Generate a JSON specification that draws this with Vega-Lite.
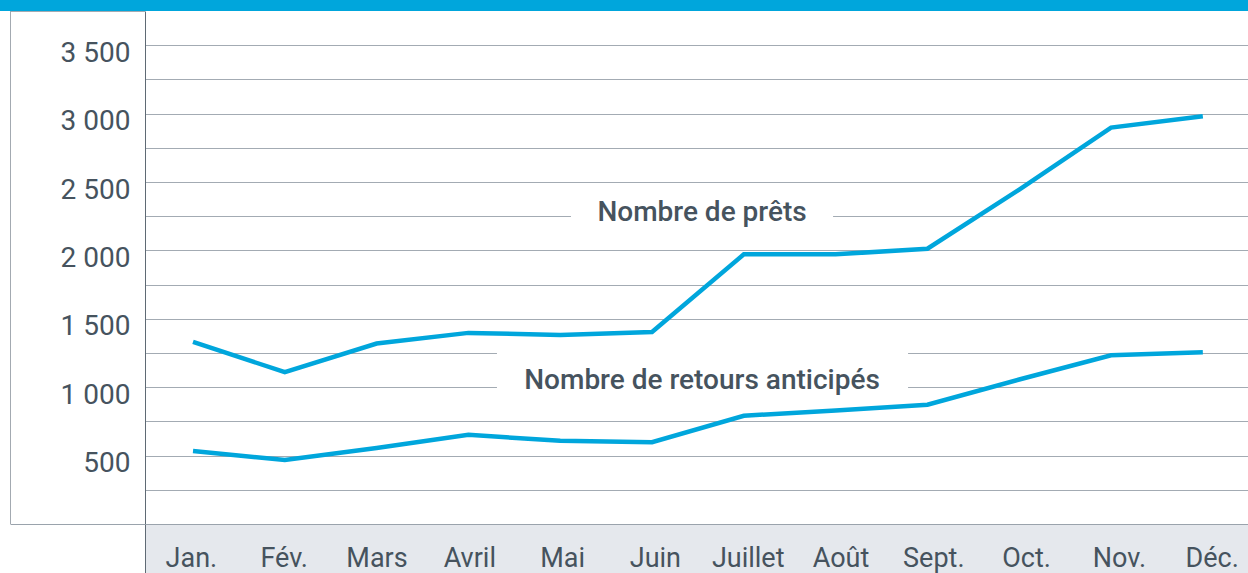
{
  "$schema": "https://vega.github.io/schema/vega-lite/v6.json",
  "padding": {"top": 10, "left": 0, "right": 0, "bottom": 0},
  "spacing": 0,
  "bounds": "flush",
  "columns": 3,
  "background": "#00a6dc",
  "config": {
    "view": {"stroke": null},
    "font": "Roboto",
    "concat": {"spacing": 0}
  },
  "datasets": {
    "series": [
      {"mois": 1, "serie": "prets", "valeur": 1331},
      {"mois": 2, "serie": "prets", "valeur": 1110},
      {"mois": 3, "serie": "prets", "valeur": 1319},
      {"mois": 4, "serie": "prets", "valeur": 1397},
      {"mois": 5, "serie": "prets", "valeur": 1382},
      {"mois": 6, "serie": "prets", "valeur": 1404},
      {"mois": 7, "serie": "prets", "valeur": 1971},
      {"mois": 8, "serie": "prets", "valeur": 1971},
      {"mois": 9, "serie": "prets", "valeur": 2012},
      {"mois": 10, "serie": "prets", "valeur": 2445},
      {"mois": 11, "serie": "prets", "valeur": 2898},
      {"mois": 12, "serie": "prets", "valeur": 2980},
      {"mois": 1, "serie": "retours", "valeur": 534},
      {"mois": 2, "serie": "retours", "valeur": 468},
      {"mois": 3, "serie": "retours", "valeur": 555},
      {"mois": 4, "serie": "retours", "valeur": 652},
      {"mois": 5, "serie": "retours", "valeur": 608},
      {"mois": 6, "serie": "retours", "valeur": 598},
      {"mois": 7, "serie": "retours", "valeur": 791},
      {"mois": 8, "serie": "retours", "valeur": 830},
      {"mois": 9, "serie": "retours", "valeur": 872},
      {"mois": 10, "serie": "retours", "valeur": 1056},
      {"mois": 11, "serie": "retours", "valeur": 1233},
      {"mois": 12, "serie": "retours", "valeur": 1255}
    ],
    "annotations": [
      {"label": "Nombre de prêts", "x1": 5.117, "x2": 7.972, "y1": 2003, "y2": 2485, "tx": 6.545, "ty": 2215},
      {"label": "Nombre de retours anticipés", "x1": 4.311, "x2": 8.789, "y1": 790, "y2": 1290, "tx": 6.545, "ty": 985}
    ],
    "months": [
      {"mois": 1, "nom": "Jan."},
      {"mois": 2, "nom": "Fév."},
      {"mois": 3, "nom": "Mars"},
      {"mois": 4, "nom": "Avril"},
      {"mois": 5, "nom": "Mai"},
      {"mois": 6, "nom": "Juin"},
      {"mois": 7, "nom": "Juillet"},
      {"mois": 8, "nom": "Août"},
      {"mois": 9, "nom": "Sept."},
      {"mois": 10, "nom": "Oct."},
      {"mois": 11, "nom": "Nov."},
      {"mois": 12, "nom": "Déc."}
    ],
    "blank": [{"k": 1}]
  },
  "concat": [
    {
      "width": 10,
      "height": 513,
      "view": {"fill": "white", "stroke": null},
      "data": {"name": "blank"},
      "mark": {"type": "text", "text": ""}
    },
    {
      "width": 135,
      "height": 513,
      "view": {"fill": "white", "stroke": "#a3aab1", "strokeWidth": 1},
      "data": {"name": "blank"},
      "mark": {"type": "text", "text": ""}
    },
    {
      "width": 1103,
      "height": 513,
      "view": {"fill": "white", "stroke": null},
      "resolve": {"axis": {"y": "independent"}},
      "layer": [
        {
          "data": {"name": "annotations"},
          "mark": {"type": "rect", "fill": "white", "stroke": null},
          "encoding": {
            "x": {"field": "x1", "type": "quantitative", "scale": {"domain": [0.477, 12.492], "nice": false, "zero": false}, "axis": null},
            "x2": {"field": "x2"},
            "y": {"field": "y1", "type": "quantitative", "scale": {"domain": [0, 3750], "nice": false, "zero": true},
              "axis": {
                "orient": "left",
                "values": [250, 500, 750, 1000, 1250, 1500, 1750, 2000, 2250, 2500, 2750, 3000, 3250, 3500],
                "grid": true, "gridColor": "#a3abb3", "gridWidth": 1,
                "domain": false, "ticks": false, "tickSize": 0, "labels": false,
                "title": null
              }},
            "y2": {"field": "y2"}
          }
        },
        {
          "data": {"name": "series"},
          "mark": {"type": "line", "color": "#00a6dc", "strokeWidth": 4.5, "strokeJoin": "miter", "strokeCap": "butt"},
          "encoding": {
            "x": {"field": "mois", "type": "quantitative"},
            "y": {"field": "valeur", "type": "quantitative",
              "axis": {
                "orient": "left",
                "values": [500, 1000, 1500, 2000, 2500, 3000, 3500],
                "grid": false,
                "domain": true, "domainColor": "#5f6a74", "domainWidth": 1,
                "ticks": false, "tickSize": 0,
                "labelExpr": "replace(format(datum.value, ','), ',', ' ')",
                "labelOverlap": false,
                "labelFont": "Roboto", "labelFontSize": 28, "labelColor": "#46535e",
                "labelPadding": 15, "labelBaseline": "alphabetic", "labelOffset": 16,
                "title": null
              }},
            "detail": {"field": "serie"}
          }
        },
        {
          "data": {"name": "annotations"},
          "mark": {"type": "text", "font": "Roboto", "fontSize": 28, "fontWeight": 500, "color": "#46535e", "align": "center", "baseline": "alphabetic"},
          "encoding": {
            "x": {"field": "tx", "type": "quantitative"},
            "y": {"field": "ty", "type": "quantitative", "axis": null},
            "text": {"field": "label"}
          }
        }
      ]
    },
    {
      "width": 10,
      "height": 50,
      "view": {"fill": "white", "stroke": null},
      "data": {"name": "blank"},
      "mark": {"type": "text", "text": ""}
    },
    {
      "width": 135,
      "height": 50,
      "view": {"fill": "white", "stroke": null},
      "data": {"name": "blank"},
      "mark": {"type": "text", "text": ""},
      "encoding": {
        "x": {"datum": 0.5, "type": "quantitative", "scale": {"domain": [0, 1], "nice": false},
          "axis": {"orient": "top", "domain": true, "domainColor": "#9aa3ac", "domainWidth": 1, "labels": false, "ticks": false, "tickSize": 0, "grid": false, "title": null}}
      }
    },
    {
      "width": 1103,
      "height": 50,
      "view": {"fill": "#e5e8ed", "stroke": null},
      "data": {"name": "months"},
      "mark": {"type": "text", "font": "Roboto", "fontSize": 27, "color": "#46535e", "align": "center", "baseline": "alphabetic"},
      "encoding": {
        "x": {"field": "mois", "type": "quantitative", "scale": {"domain": [0.5, 12.386], "nice": false, "zero": false},
          "axis": {"orient": "top", "domain": true, "domainColor": "#9aa3ac", "domainWidth": 1, "labels": false, "ticks": false, "tickSize": 0, "grid": false, "title": null}},
        "y": {"datum": 0.14, "type": "quantitative", "scale": {"domain": [0, 1], "nice": false},
          "axis": {"domain": true, "domainColor": "#5f6a74", "domainWidth": 1, "labels": false, "ticks": false, "tickSize": 0, "grid": false, "title": null}},
        "text": {"field": "nom"}
      }
    }
  ]
}
